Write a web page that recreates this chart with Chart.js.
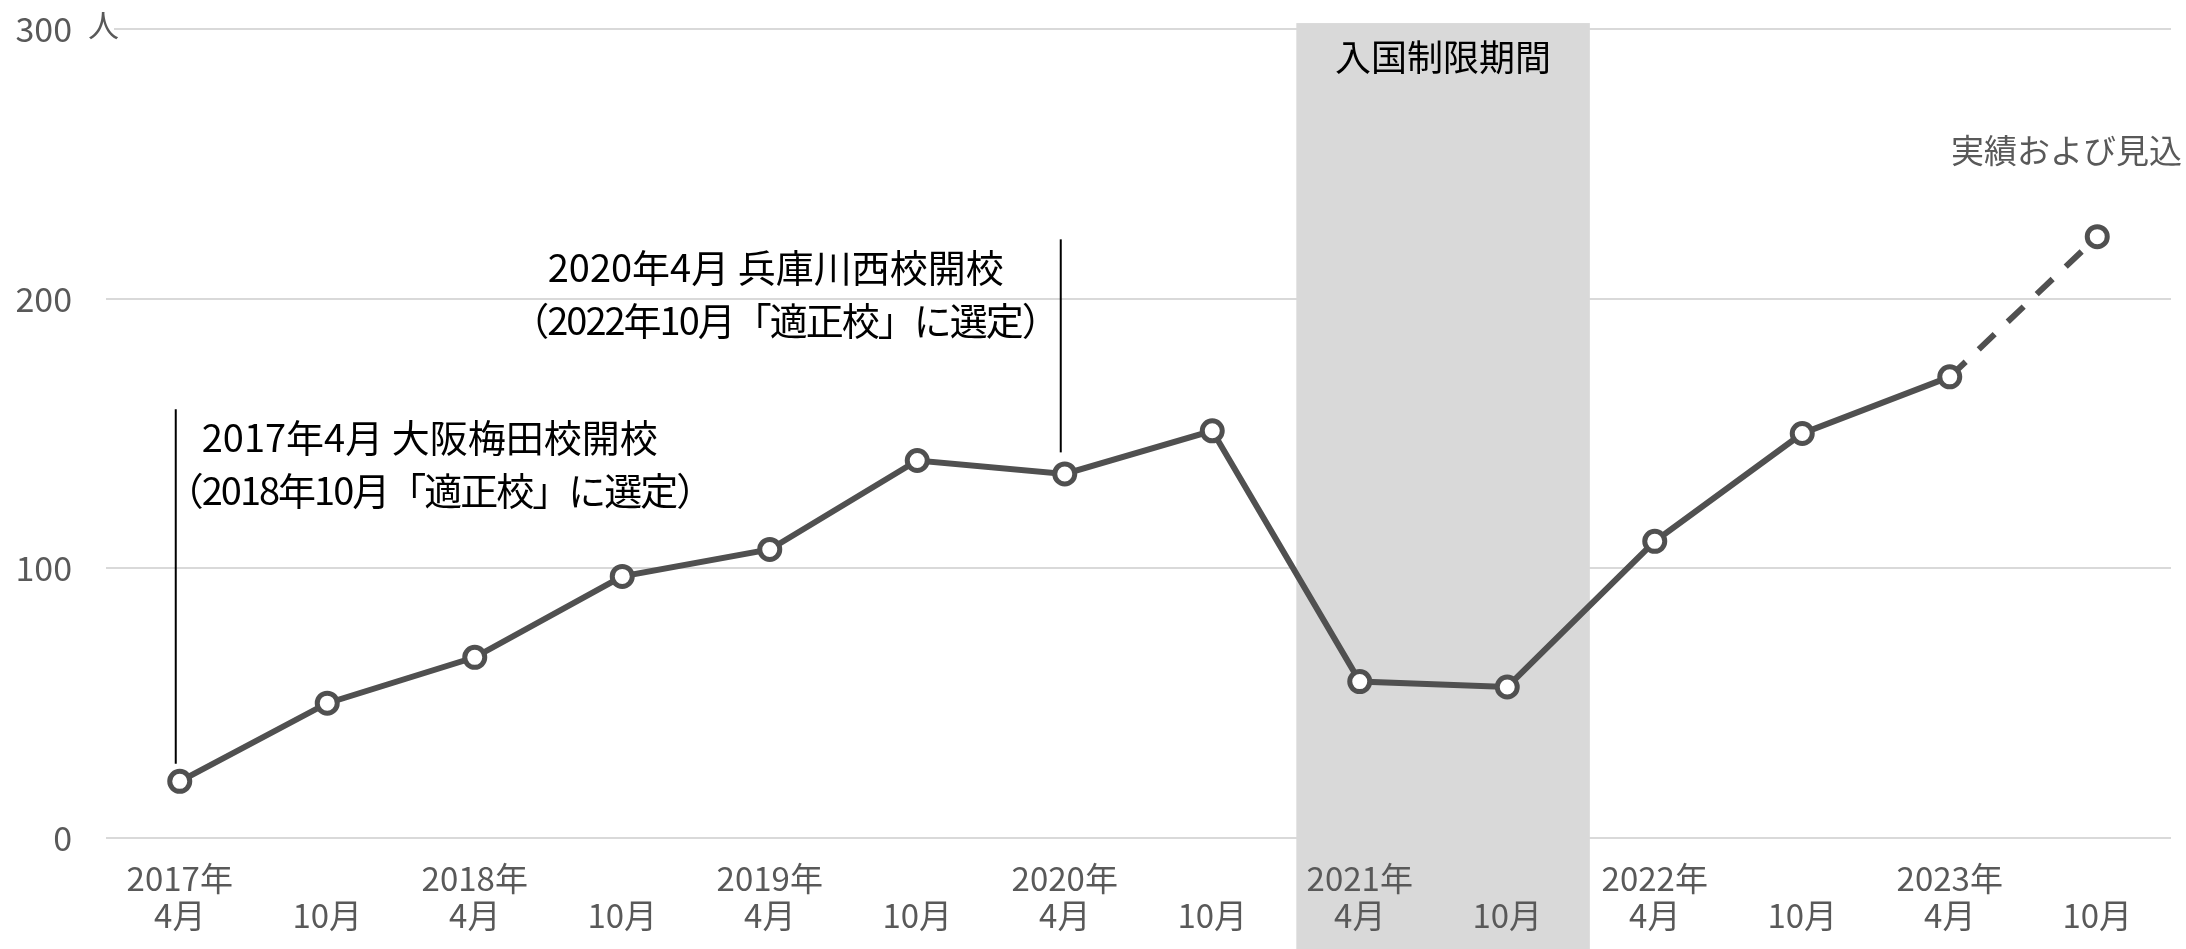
<!DOCTYPE html>
<html>
<head>
<meta charset="utf-8">
<script src="https://cdn.jsdelivr.net/npm/chart.js@4"></script>
<style>
  body { margin: 0; background: #fff; }
  #wrap { width: 2186px; height: 949px; }
</style>
</head>
<body>
<div id="wrap"><canvas id="grafica"></canvas></div>
<script>
// datos
const years = ['2017年','','2018年','','2019年','','2020年','','2021年','','2022年','','2023年',''];
const months = ['4月','10月','4月','10月','4月','10月','4月','10月','4月','10月','4月','10月','4月','10月'];
const students = [21, 50, 67, 97, 107, 140, 135, 151, 58, 56, 110, 150, 171, 223];
const yTicks = [0, 100, 200, 300];
const forecastFrom = 12; // el ultimo tramo es estimado (linea discontinua)
const restrictLabel = '入国制限期間';
const seriesLabel = '実績および見込';
const unitLabel = '人';
const noteIdx = [0, 6];
const noteTop = [159, 222];
const noteBottom = [27.5, 143];
const noteLine1 = ['2017年4月 大阪梅田校開校', '2020年4月 兵庫川西校開校'];
const noteLine2 = ['（2018年10月「適正校」に選定）', '（2022年10月「適正校」に選定）'];

const labels = years.map((y, i) => [y, months[i]]);
const FONT = '"Noto Sans CJK JP", "Noto Sans", sans-serif';
const GREY = '#595959';
const LINE = '#505050';

// zona sombreada (detras de la linea)
const sombra = {
  id: 'sombra',
  beforeDatasetsDraw(chart) {
    const {ctx, scales: {x, y}} = chart;
    const l = x.getPixelForValue(7.57);
    const r = x.getPixelForValue(9.56);
    const t = y.getPixelForValue(302.2);
    ctx.save();
    ctx.fillStyle = '#d9d9d9';
    ctx.fillRect(l, t, r - l, chart.height - t);
    ctx.fillStyle = '#000';
    ctx.font = '36px ' + FONT;
    ctx.textAlign = 'center';
    ctx.textBaseline = 'middle';
    ctx.fillText(restrictLabel, (l + r) / 2, y.getPixelForValue(289.5));
    ctx.restore();
  }
};

// notas y textos
const notas = {
  id: 'notas',
  afterDraw(chart) {
    const {ctx, scales: {x, y}} = chart;
    ctx.save();
    // unidad junto al 300
    const y300 = y.getPixelForValue(300);
    ctx.fillStyle = '#fff';
    ctx.fillRect(84, y300 - 4, 30, 8);
    ctx.fillStyle = GREY;
    ctx.font = '31px ' + FONT;
    ctx.textBaseline = 'middle';
    ctx.textAlign = 'left';
    ctx.fillText(unitLabel, 88, y300 - 4);
    // etiqueta de la serie
    ctx.textAlign = 'right';
    ctx.font = '33px ' + FONT;
    ctx.fillText(seriesLabel, 2182, y.getPixelForValue(255));

    ctx.font = '38px ' + FONT;
    ctx.fillStyle = '#000';
    ctx.strokeStyle = '#000';
    ctx.lineWidth = 2;
    noteIdx.forEach((idx, i) => {
      const lx = x.getPixelForValue(idx) - 4;
      const top = y.getPixelForValue(noteTop[i]);
      ctx.beginPath();
      ctx.moveTo(lx, top);
      ctx.lineTo(lx, y.getPixelForValue(noteBottom[i]));
      ctx.stroke();
      ctx.letterSpacing = '0px';
      ctx.textAlign = 'left';
      ctx.fillText(noteLine1[i], i === 0 ? lx + 26 : lx - 513, top + 28);
      ctx.letterSpacing = '-2px';
      if (i === 0) {
        ctx.fillText(noteLine2[i], lx - 10, top + 81);
      } else {
        ctx.textAlign = 'right';
        ctx.fillText(noteLine2[i], lx - 3, top + 81);
      }
    });
    ctx.restore();
  }
};

const grafica = document.querySelector('#grafica');
const myChart = new Chart(grafica, {
  type: 'line',
  data: {
    labels: labels,
    datasets: [{
      label: seriesLabel,
      data: students,
      borderColor: LINE,
      borderWidth: 6,
      pointRadius: 10,
      pointHoverRadius: 10,
      pointBorderWidth: 5,
      pointBackgroundColor: '#fff',
      pointBorderColor: LINE,
      tension: 0,
      segment: {
        borderDash: ctx => ctx.p0DataIndex >= forecastFrom ? [22, 18] : undefined
      }
    }]
  },
  options: {
    responsive: true,
    maintainAspectRatio: false,
    animation: false,
    layout: { padding: { top: 29, right: 14, left: 0, bottom: 0 } },
    plugins: { legend: { display: false }, tooltip: { enabled: false } },
    scales: {
      x: {
        offset: true,
        grid: { display: false },
        border: { display: false },
        afterFit: s => { s.height = 111; },
        ticks: {
          z: 1,
          color: GREY,
          padding: 14,
          autoSkip: false,
          maxRotation: 0,
          font: { family: FONT, size: 33, lineHeight: 1.12 }
        }
      },
      y: {
        min: 0,
        max: 300,
        afterFit: s => { s.width = 106; },
        afterBuildTicks: s => { s.ticks = yTicks.map(v => ({ value: v })); },
        border: { display: false },
        grid: { color: '#d9d9d9', lineWidth: 2, drawTicks: true, tickLength: 34, tickColor: 'rgba(0,0,0,0)' },
        ticks: {
          color: GREY,
          padding: 0,
          font: { family: FONT, size: 34 }
        }
      }
    }
  },
  plugins: [sombra, notas]
});
</script>
</body>
</html>
